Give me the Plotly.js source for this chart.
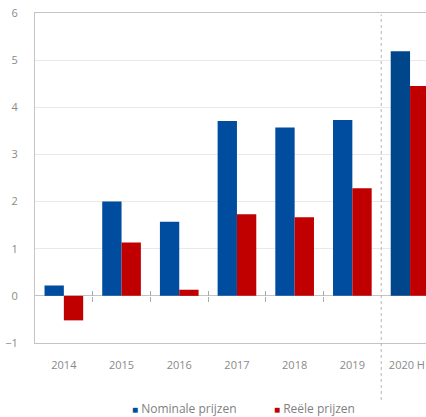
<!DOCTYPE html>
<html>
<head>
<meta charset="utf-8">
<script src="https://cdn.plot.ly/plotly-3.0.1.min.js"></script>
<style>
  html, body { margin: 0; padding: 0; background: #ffffff; }
  #chart { width: 426px; height: 417px; }
</style>
</head>
<body>
<div id="chart"></div>
<script>
// Year-on-year price change (%), nominal vs real
const categories = ['2014', '2015', '2016', '2017', '2018', '2019', '2020 H1'];
const nominal = [0.22, 2.00, 1.57, 3.71, 3.57, 3.73, 5.19];
const real = [-0.52, 1.13, 0.13, 1.73, 1.67, 2.28, 4.45];
const seriesNames = ['Nominale prijzen', 'Reële prijzen'];
const yTicks = [-1, 0, 1, 2, 3, 4, 5, 6];

const BLUE = '#004c9f';
const BLUE_LAST = '#00468a';
const RED = '#c00000';
const GREY_TEXT = '#8a8a8a';
const AXIS = '#c4c4c4';
const GRID = '#e9e9e9';
const FONT = '"Open Sans", "Noto Sans", sans-serif';

// last period (half year) is set apart with a darker blue
const nominalColors = categories.map((c, i) => i === categories.length - 1 ? BLUE_LAST : BLUE);

const W = 426, H = 417;
const margin = { l: 35, r: 0, t: 13, b: 74 };
const plotW = W - margin.l - margin.r;
const plotH = H - margin.t - margin.b;
const catWidth = 57.7; // px per category
const xRange = [-0.5, -0.5 + plotW / catWidth];
const yRange = [yTicks[0], yTicks[yTicks.length - 1]];

const traces = [
  {
    type: 'bar', name: seriesNames[0], x: categories, y: nominal,
    marker: { color: nominalColors, line: { width: 0 } },
    showlegend: false, hoverinfo: 'x+y'
  },
  {
    type: 'bar', name: seriesNames[1], x: categories, y: real,
    marker: { color: RED, line: { width: 0 } },
    showlegend: false, hoverinfo: 'x+y'
  }
];

// separator between full years and the half-year period
const splitPos = categories.length - 1.5;
const zeroFrac = (0 - yRange[0]) / (yRange[1] - yRange[0]);

const legendY = -65 / plotH;
const annotations = [
  {
    xref: 'paper', yref: 'paper', x: (130 - margin.l) / plotW, y: legendY,
    xanchor: 'left', yanchor: 'middle', showarrow: false,
    text: '<span style="color:' + BLUE + ';font-size:10px">■</span> ' + seriesNames[0],
    font: { family: FONT, size: 12, color: '#7f7f7f' }
  },
  {
    xref: 'paper', yref: 'paper', x: (272 - margin.l) / plotW, y: legendY,
    xanchor: 'left', yanchor: 'middle', showarrow: false,
    text: '<span style="color:' + RED + ';font-size:10px">■</span> ' + seriesNames[1],
    font: { family: FONT, size: 12, color: '#7f7f7f' }
  }
];

const layout = {
  width: W, height: H,
  margin: margin,
  paper_bgcolor: '#ffffff', plot_bgcolor: '#ffffff',
  font: { family: FONT, size: 11, color: GREY_TEXT },
  barmode: 'group', bargap: 0.33, bargroupgap: 0,
  showlegend: false,
  xaxis: {
    type: 'category', range: xRange, fixedrange: true,
    showline: true, linecolor: AXIS, linewidth: 1, mirror: true,
    showgrid: false, ticks: '', automargin: false,
    tickfont: { family: FONT, size: 11, color: GREY_TEXT },
    ticklabelstandoff: 12
  },
  // short category-boundary ticks crossing the zero line
  xaxis2: {
    type: 'category', range: xRange, overlaying: 'x', anchor: 'free',
    position: zeroFrac, showline: false, showgrid: false, showticklabels: false,
    ticks: 'outside', ticklen: 5, tickwidth: 1, tickcolor: '#aaaaaa',
    tickson: 'boundaries', tickvals: categories.slice(1, -2), automargin: false
  },
  xaxis3: {
    type: 'category', range: xRange, overlaying: 'x', anchor: 'free',
    position: zeroFrac, showline: false, showgrid: false, showticklabels: false,
    ticks: 'inside', ticklen: 5, tickwidth: 1, tickcolor: '#aaaaaa',
    tickson: 'boundaries', tickvals: categories.slice(1, -2), automargin: false
  },
  yaxis: {
    range: yRange, tickvals: yTicks, fixedrange: true,
    showline: true, linecolor: AXIS, linewidth: 1, mirror: false,
    showgrid: true, gridcolor: GRID, gridwidth: 1,
    zeroline: true, zerolinecolor: AXIS, zerolinewidth: 1,
    ticks: '', automargin: false,
    tickfont: { family: FONT, size: 11, color: GREY_TEXT },
    ticklabelstandoff: 14
  },
  shapes: [
    {
      type: 'line', xref: 'x', yref: 'paper',
      x0: splitPos, x1: splitPos, y0: -57 / plotH, y1: 0.995,
      line: { color: '#b5b5b5', width: 1, dash: 'dot' }
    }
  ],
  annotations: annotations
};

// invisible helper traces bind the tick-only axes
traces.push(
  { type: 'scatter', x: categories, y: nominal, xaxis: 'x2', mode: 'none', showlegend: false, hoverinfo: 'skip' },
  { type: 'scatter', x: categories, y: nominal, xaxis: 'x3', mode: 'none', showlegend: false, hoverinfo: 'skip' }
);

Plotly.newPlot('chart', traces, layout, { displayModeBar: false, staticPlot: true });
</script>
</body>
</html>
